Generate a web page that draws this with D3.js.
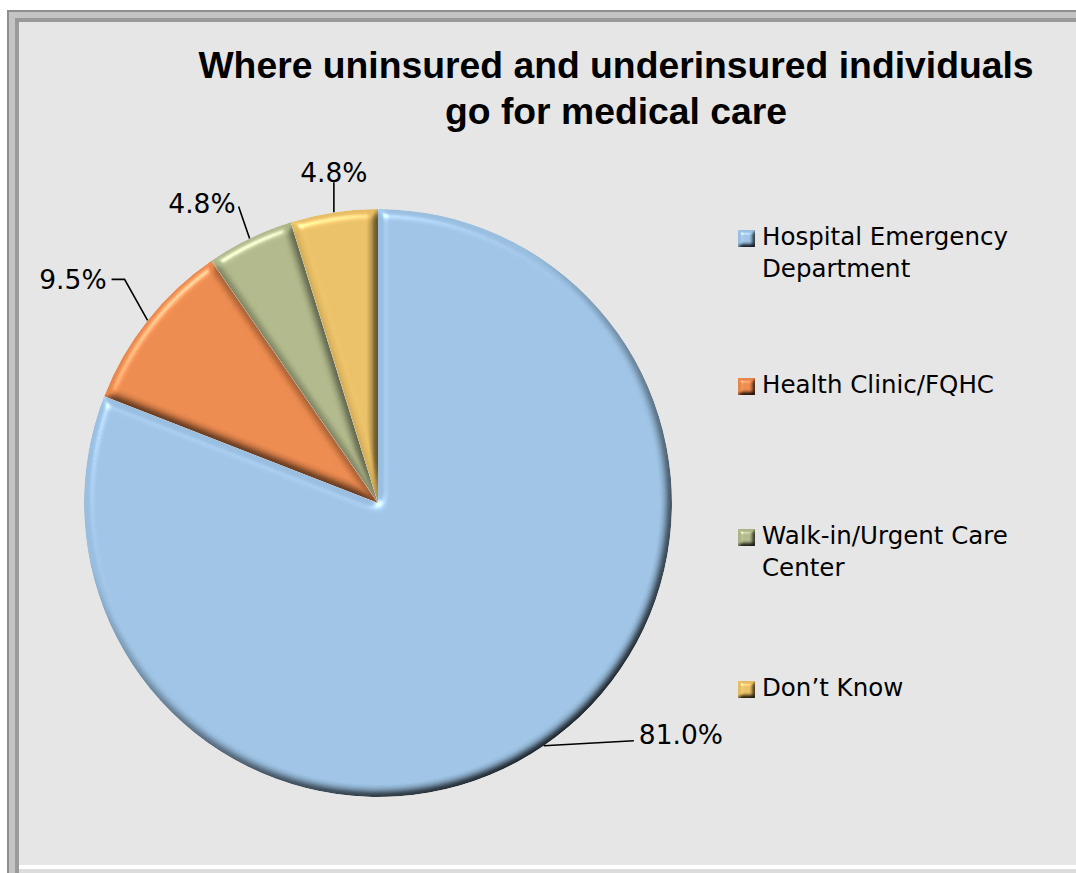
<!DOCTYPE html>
<html>
<head>
<meta charset="utf-8">
<script src="https://cdn.jsdelivr.net/npm/d3@7"></script>
<style>
  html, body { margin: 0; padding: 0; background: #ffffff; }
  svg { display: block; }
</style>
</head>
<body>
<svg id="chart" width="1076" height="873"></svg>
<script>
// ---- data ----
const categories = ["Hospital Emergency Department", "Health Clinic/FQHC", "Walk-in/Urgent Care Center", "Don’t Know"];
const legendLines = [["Hospital Emergency", "Department"], ["Health Clinic/FQHC"], ["Walk-in/Urgent Care", "Center"], ["Don’t Know"]];
const values = [81.0, 9.5, 4.8, 4.8];
const valueLabels = ["81.0%", "9.5%", "4.8%", "4.8%"];
const colors = ["#99bedf", "#e6864b", "#acb487", "#e4bb62"];
const titleLines = ["Where uninsured and underinsured individuals", "go for medical care"];

const W = 1076, H = 873;
const svg = d3.select("#chart");
const defs = svg.append("defs");

// bevel filter
function bevel(id, blur, scale) {
  const f = defs.append("filter").attr("id", id)
    .attr("color-interpolation-filters", "sRGB")
    .attr("x", "-10%").attr("y", "-10%").attr("width", "120%").attr("height", "120%");
  f.append("feGaussianBlur").attr("in", "SourceAlpha").attr("stdDeviation", blur).attr("result", "blur");
  const d = f.append("feDiffuseLighting").attr("in", "blur").attr("surfaceScale", scale)
    .attr("diffuseConstant", 1.0 / Math.sin(50 * Math.PI / 180)).attr("lighting-color", "#ffffff").attr("result", "diff");
  d.append("feDistantLight").attr("azimuth", 235).attr("elevation", 50);
  f.append("feComposite").attr("in", "SourceGraphic").attr("in2", "diff")
    .attr("operator", "arithmetic").attr("k1", 1).attr("k2", 0).attr("k3", 0).attr("k4", 0).attr("result", "shaded");
  const s = f.append("feSpecularLighting").attr("in", "blur").attr("surfaceScale", scale)
    .attr("specularConstant", 0.6).attr("specularExponent", 40).attr("lighting-color", "#ffffff").attr("result", "spec");
  s.append("feDistantLight").attr("azimuth", 235).attr("elevation", 50);
  f.append("feComposite").attr("in", "spec").attr("in2", "SourceAlpha").attr("operator", "in").attr("result", "specIn");
  f.append("feComposite").attr("in", "shaded").attr("in2", "specIn")
    .attr("operator", "arithmetic").attr("k1", 0).attr("k2", 1).attr("k3", 0.55).attr("k4", 0).attr("result", "lit");
  f.append("feComposite").attr("in", "lit").attr("in2", "SourceAlpha").attr("operator", "in");
}
bevel("bevel", 5, 5);
bevel("bevelSmall", 2, 3);

// ---- frame ----
svg.append("rect").attr("x", 0).attr("y", 0).attr("width", W).attr("height", H).attr("fill", "#ffffff");
svg.append("rect").attr("x", 7).attr("y", 10).attr("width", W - 7).attr("height", H - 10).attr("fill", "#8e8e8e");
svg.append("rect").attr("x", 9).attr("y", 12).attr("width", W - 9).attr("height", H - 12).attr("fill", "#c4c4c4");
svg.append("rect").attr("x", 15).attr("y", 18).attr("width", W - 15).attr("height", H - 18).attr("fill", "#9a9a9a");
svg.append("rect").attr("x", 19).attr("y", 22).attr("width", W - 19).attr("height", H - 22).attr("fill", "#e6e6e6");
svg.append("rect").attr("x", 19).attr("y", H - 8).attr("width", W - 19).attr("height", 4).attr("fill", "#ffffff");
svg.append("rect").attr("x", 19).attr("y", H - 4).attr("width", W - 19).attr("height", 4).attr("fill", "#dcdcdc");

// ---- title ----
const title = svg.append("text").attr("text-anchor", "middle")
  .attr("font-family", "'Liberation Sans', Arial, sans-serif").attr("font-weight", "bold")
  .attr("font-size", 37.3).attr("fill", "#000");
titleLines.forEach((t, i) => {
  title.append("tspan").attr("x", 616).attr("y", 78 + i * 46).text(t);
});

// ---- pie ----
const cx = 378, cy = 503, R = 294;
const pie = d3.pie().sort(null).value(d => d);
const arcs = pie(values);
const arc = d3.arc().innerRadius(0).outerRadius(R);
const g = svg.append("g").attr("transform", `translate(${cx},${cy})`);
g.selectAll("path.slice").data(arcs).join("path")
  .attr("class", "slice")
  .attr("d", arc)
  .attr("fill", (d, i) => colors[i])
  .attr("filter", "url(#bevel)");

// ---- leader lines and labels ----
const labelFont = "'DejaVu Sans', sans-serif";
const edge = d => {
  const a = (d.startAngle + d.endAngle) / 2;
  return [R * Math.sin(a), -R * Math.cos(a)];
};
// per-slice label layout (relative offsets from the edge point)
const layout = [
  { pts: [[90, -5]], text: [95, -9], anchor: "start" },
  { pts: [[-23, -41], [-36, -41]], text: [-41, -39], anchor: "end" },
  { pts: [[-11, -32]], text: [-14, -33], anchor: "end" },
  { pts: [[0, -30]], text: [0, -38], anchor: "middle" }
];
arcs.forEach((d, i) => {
  const [ex, ey] = edge(d);
  const L = layout[i];
  const pts = [[ex, ey]].concat(L.pts.map(p => [ex + p[0], ey + p[1]]));
  g.append("path").attr("d", d3.line()(pts)).attr("fill", "none")
    .attr("stroke", "#000").attr("stroke-width", 1.6);
  g.append("text").attr("x", ex + L.text[0]).attr("y", ey + L.text[1])
    .attr("text-anchor", L.anchor).attr("dominant-baseline", "middle")
    .attr("font-family", labelFont).attr("font-size", 26.5).attr("fill", "#000")
    .text(valueLabels[i]);
});

// ---- legend ----
const legendY = [238, 386, 537, 689];
const leg = svg.append("g");
categories.forEach((c, i) => {
  leg.append("rect").attr("x", 738).attr("y", legendY[i] - 8).attr("width", 17).attr("height", 17)
    .attr("fill", colors[i]).attr("filter", "url(#bevelSmall)");
  legendLines[i].forEach((line, j) => {
    leg.append("text").attr("x", 762).attr("y", legendY[i] + j * 32)
      .attr("dominant-baseline", "middle")
      .attr("font-family", labelFont).attr("font-size", 24.5).attr("fill", "#000")
      .text(line);
  });
});
</script>
</body>
</html>
